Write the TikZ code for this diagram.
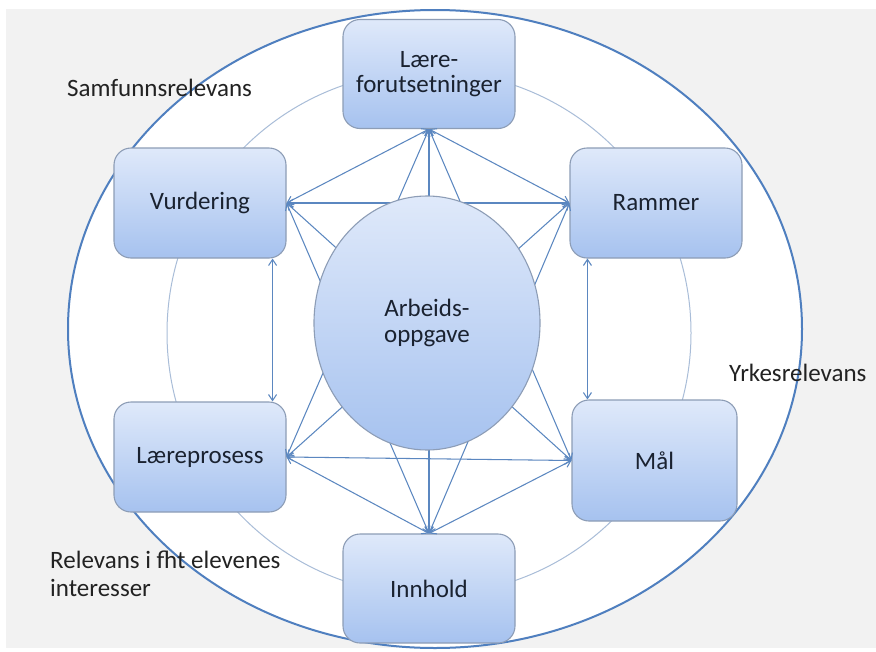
\documentclass[tikz,border=0pt]{standalone}
\usepackage{fontspec}
\setmainfont{Carlito}
\usetikzlibrary{arrows.meta,calc,shapes.geometric}
\definecolor{bg}{HTML}{F2F2F2}
\definecolor{ring}{HTML}{4F7FBF}
\definecolor{thinring}{HTML}{A9BDD8}
\definecolor{arr}{HTML}{5B87C0}
\definecolor{boxtop}{HTML}{DFE9FA}
\definecolor{boxbot}{HTML}{A6C2EF}
\definecolor{boxline}{HTML}{8D9DB6}
\definecolor{txt}{HTML}{1A2230}
\definecolor{txtout}{HTML}{222222}
\begin{document}
\begin{tikzpicture}[x=1pt,y=-1pt,
  box/.style={rectangle, rounded corners=17pt, draw=boxline, line width=1.1pt,
    top color=boxtop, bottom color=boxbot, minimum width=172pt, minimum height=109pt,
    align=center, font=\fontsize{25}{25}\selectfont, text=txt, inner sep=0pt},
  center/.style={ellipse, draw=boxline, line width=1.1pt, top color=boxtop, bottom color=boxbot,
    minimum width=226pt, minimum height=254pt, align=center,
    font=\fontsize{25}{26}\selectfont, text=txt, inner sep=0pt},
  conn/.style={draw=arr, line width=1.05pt,
    {Straight Barb[length=6pt,width=8pt]}-{Straight Barb[length=6pt,width=8pt]}},
  outlabel/.style={font=\fontsize{25}{28}\selectfont, text=txtout, align=left, inner sep=0pt}]
\useasboundingbox (0,0) rectangle (876,651);
\fill[white] (0,0) rectangle (876,651);
\fill[bg] (6,9) rectangle (876,648);
\draw[ring, fill=white, line width=2pt] (435,329) ellipse [x radius=367, y radius=319];
\draw[thinring, line width=1pt] (429,333) circle [radius=262];
% boxes
\node[box] (lf) at (429,74) {Lære-\\forutsetninger};
\node[box, minimum height=110pt] (vu) at (200,203) {Vurdering};
\node[box, minimum height=110pt] (ra) at (656,203) {Rammer};
\node[box, minimum height=110pt] (lp) at (200,457) {Læreprosess};
\node[box, minimum width=165pt, minimum height=121pt] (ma) at (654.5,460.5) {Mål};
\node[box] (in) at (429,588.5) {Innhold};
% connectors
\draw[conn] (lf.south) -- (vu.east);
\draw[conn] (lf.south) -- (ra.west);
\draw[conn] (lf.south) -- (lp.east);
\draw[conn] (lf.south) -- (ma.west);
\draw[conn] (lf.south) -- (in.north);
\draw[conn] (vu.east) -- (ra.west);
\draw[conn] (vu.east) -- (ma.west);
\draw[conn] (vu.east) -- (in.north);
\draw[conn] (ra.west) -- (lp.east);
\draw[conn] (ra.west) -- (in.north);
\draw[conn] (lp.east) -- (ma.west);
\draw[conn] (lp.east) -- (in.north);
\draw[conn] (ma.west) -- (in.north);
\draw[conn] ($(vu.south east)+(-14,0)$) -- ($(lp.north east)+(-14,0)$);
\draw[conn] ($(ra.south west)+(18,0)$) -- ($(ma.north west)+(16,0)$);
% centre
\node[center] (ao) at (427,323) {Arbeids-\\oppgave};
% outer labels
\node[outlabel, anchor=west] (sr) at (67,88) {Samfunnsrelevans};
\node[outlabel, anchor=west] (yr) at (729,373) {Yrkesrelevans};
\node[outlabel, anchor=north west] (re) at (50,551) {Relevans i fht elevenes\\interesser};
\end{tikzpicture}
\end{document}
